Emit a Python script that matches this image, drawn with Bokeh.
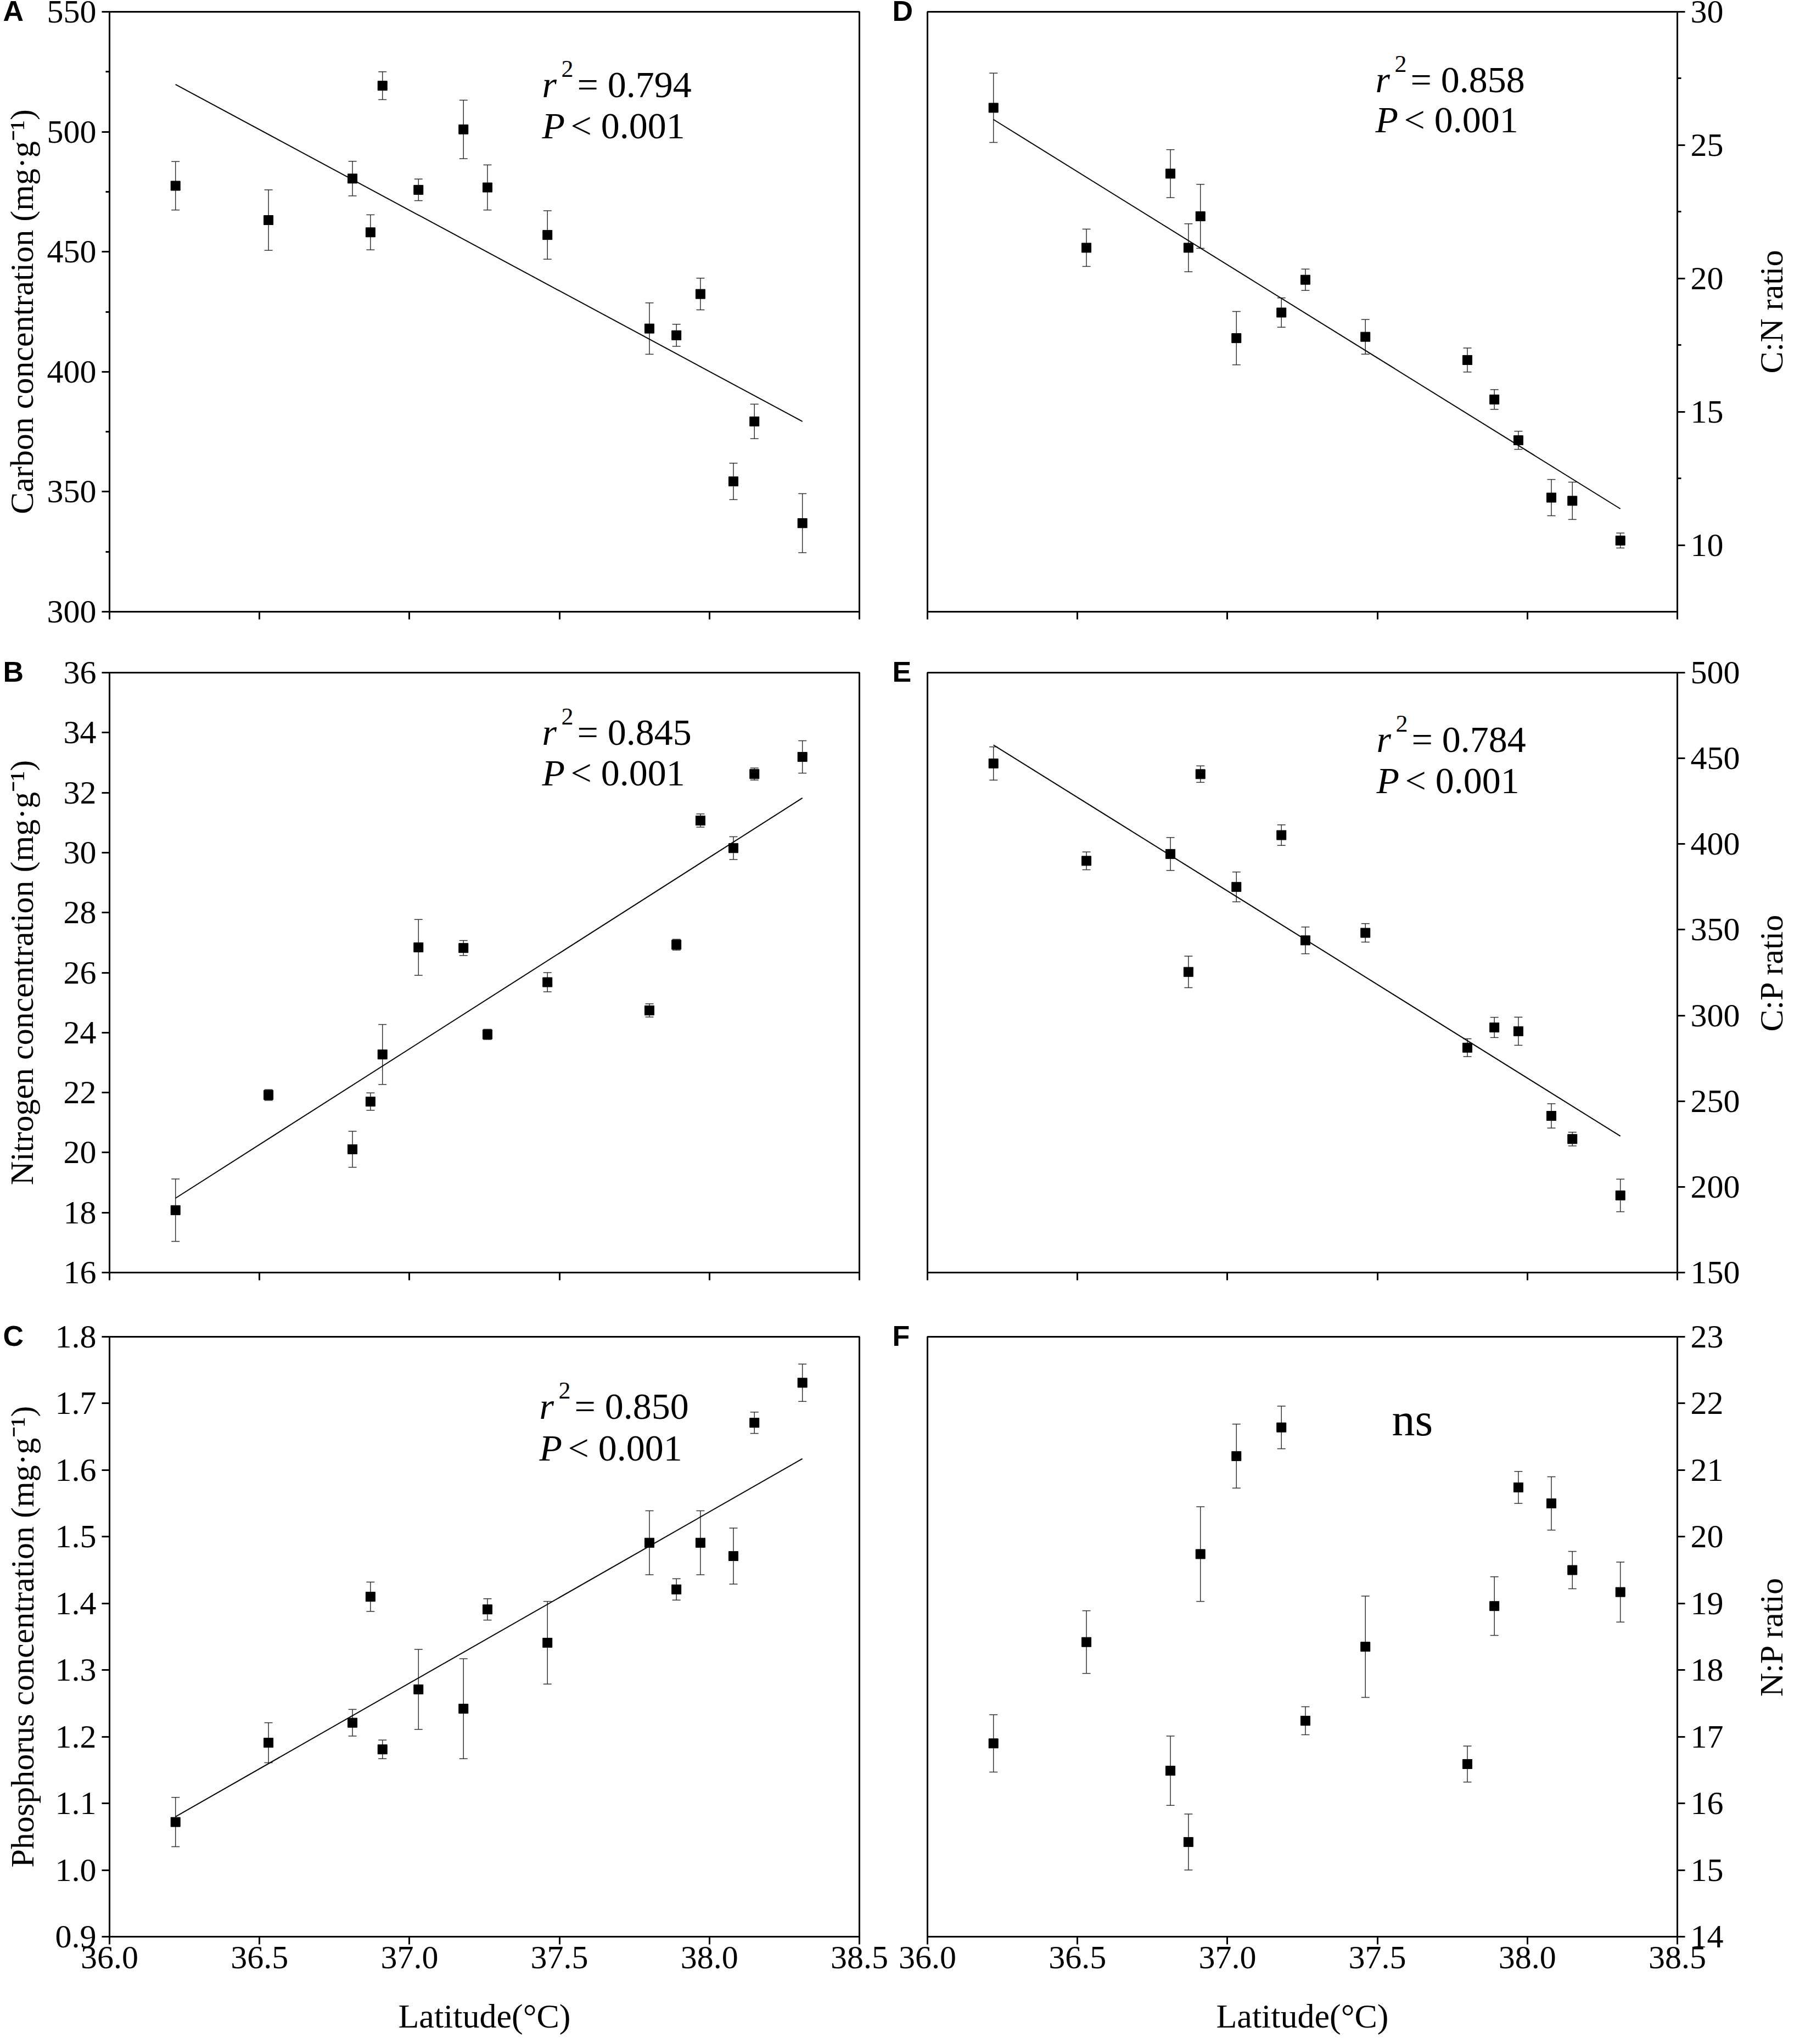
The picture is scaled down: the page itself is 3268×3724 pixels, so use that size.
import math
from bokeh.plotting import figure
from bokeh.models import (ColumnDataSource, Whisker, TeeHead, FixedTicker, Label,
                          Range1d, PrintfTickFormatter, CustomLabelingPolicy)
from bokeh.layouts import column, row
from bokeh.embed import file_html
from bokeh.resources import INLINE

# ---------------- data ----------------
latitude = [36.22, 36.53, 36.81, 36.87, 36.91, 37.03, 37.18, 37.26, 37.46,
            37.80, 37.89, 37.97, 38.08, 38.15, 38.31]

carbon = [477.5, 463.2, 480.5, 458.1, 519.2, 475.8, 501.0, 476.8, 457.0,
          418.0, 415.2, 432.4, 354.3, 379.3, 336.9]
carbon_err = [10.1, 12.6, 7.2, 7.3, 5.8, 4.5, 12.2, 9.4, 10.1,
              10.7, 4.6, 6.6, 7.6, 7.2, 12.3]
carbon_fit = [519.7, 379.3]

nitrogen = [18.08, 21.92, 20.11, 21.70, 23.27, 26.84, 26.82, 23.94, 25.68,
            24.74, 26.93, 31.07, 30.15, 32.62, 33.19]
nitrogen_err = [1.04, 0.18, 0.60, 0.29, 1.00, 0.93, 0.25, 0.17, 0.32,
                0.22, 0.18, 0.22, 0.38, 0.20, 0.54]
nitrogen_fit = [18.48, 31.82]

phosphorus = [1.072, 1.191, 1.221, 1.410, 1.181, 1.271, 1.242, 1.391, 1.341,
              1.491, 1.421, 1.491, 1.471, 1.671, 1.731]
phosphorus_err = [0.037, 0.030, 0.020, 0.022, 0.014, 0.060, 0.075, 0.016, 0.062,
                  0.048, 0.016, 0.048, 0.042, 0.016, 0.028]
phosphorus_fit = [1.080, 1.617]

cn_ratio = [26.40, 21.15, 23.93, 21.15, 22.33, 17.76, 18.72, 19.95, 17.81,
            16.94, 15.46, 13.93, 11.78, 11.66, 10.17]
cn_err = [1.30, 0.70, 0.90, 0.90, 1.20, 1.00, 0.55, 0.40, 0.65,
          0.45, 0.37, 0.34, 0.68, 0.70, 0.28]
cn_fit = [25.96, 11.36]

cp_ratio = [447.0, 390.2, 394.2, 325.4, 440.8, 375.0, 405.2, 343.8, 348.2,
            281.2, 293.0, 290.8, 241.4, 227.9, 195.0]
cp_err = [9.7, 5.2, 9.6, 9.2, 4.8, 8.7, 6.0, 7.8, 5.4,
          5.2, 5.9, 8.2, 7.1, 4.0, 9.5]
cp_fit = [457.8, 229.6]

np_ratio = [16.90, 18.42, 16.49, 15.42, 19.74, 21.21, 21.64, 17.24, 18.35,
            16.59, 18.96, 20.74, 20.50, 19.50, 19.17]
np_err = [0.43, 0.47, 0.52, 0.42, 0.71, 0.48, 0.32, 0.21, 0.76,
          0.27, 0.44, 0.24, 0.40, 0.28, 0.45]

x_ticks = [36.0, 36.5, 37.0, 37.5, 38.0, 38.5]
x_title = "Latitude(°C)"

stats_A = ("0.794", "0.001")
stats_B = ("0.845", "0.001")
stats_C = ("0.850", "0.001")
stats_D = ("0.858", "0.001")
stats_E = ("0.784", "0.001")

FONT = "Liberation Serif"
SANS = "Liberation Sans"
TICK_PX = "60px"
LABEL_PX = "60px"
XTITLE_PX = "62px"
STAT_PX = "68px"

FRAME_W = 1366
FRAME_H = 1093
X0, X1 = 36.0, 38.5


def style_axis(ax):
    ax.axis_line_width = 3
    ax.axis_line_color = "black"
    ax.major_tick_line_width = 3
    ax.minor_tick_line_width = 3
    ax.major_tick_line_color = "black"
    ax.minor_tick_line_color = "black"
    ax.major_tick_in = 0
    ax.major_tick_out = 14
    ax.minor_tick_in = 0
    ax.minor_tick_out = 7
    ax.major_label_text_font = FONT
    ax.major_label_text_font_size = TICK_PX
    ax.major_label_text_color = "black"
    ax.axis_label_text_font = FONT
    ax.axis_label_text_font_size = LABEL_PX
    ax.axis_label_text_font_style = "normal"
    ax.axis_label_text_color = "black"


def make_panel(right_col, b_top, b_bottom, y_rng, y_major, y_minor, y_fmt,
               y_label, y_label_standoff, show_x, letter, yvals, yerr, fit):
    if right_col:
        bl, br = 65, 197
        letter_dx = -64
    else:
        bl, br = 199, 59
        letter_dx = -194
    p = figure(width=bl + FRAME_W + br, height=b_top + FRAME_H + b_bottom,
               x_range=Range1d(X0, X1), y_range=Range1d(*y_rng),
               output_backend="svg", toolbar_location=None,
               y_axis_location="right" if right_col else "left",
               min_border_left=bl, min_border_right=br,
               min_border_top=b_top, min_border_bottom=b_bottom)
    p.grid.visible = False
    p.outline_line_color = "black"
    p.outline_line_width = 3
    p.outline_line_alpha = 1.0
    p.background_fill_color = "white"
    p.border_fill_color = "white"

    xa = p.xaxis[0]
    ya = p.yaxis[0]
    style_axis(xa)
    style_axis(ya)

    xa.ticker = FixedTicker(ticks=x_ticks, minor_ticks=[])
    xa.formatter = PrintfTickFormatter(format="%.1f")
    xa.major_label_standoff = 4
    if not show_x:
        xa.major_label_text_font_size = "0px"
        xa.major_label_policy = CustomLabelingPolicy(
            code="for (const i of indices) { indices.unset(i) }\nreturn indices")
    else:
        # x-axis title, drawn in the bottom border panel
        p.add_layout(Label(x=(X0 + X1) / 2, y=y_rng[0], x_offset=0, y_offset=-144,
                           text=x_title, text_font=FONT, text_font_size=XTITLE_PX,
                           text_align="center", text_baseline="middle",
                           text_color="black"), "below")

    ya.ticker = FixedTicker(ticks=y_major, minor_ticks=y_minor)
    ya.formatter = PrintfTickFormatter(format=y_fmt)
    ya.major_label_standoff = 10
    if right_col:
        # right-hand axis title reading bottom-to-top, drawn in the right border
        p.add_layout(Label(x=X1, y=(y_rng[0] + y_rng[1]) / 2, x_offset=171, y_offset=0,
                           angle=math.pi / 2, text=y_label, text_font=FONT,
                           text_font_size=LABEL_PX, text_align="center",
                           text_baseline="middle", text_color="black"), "right")
    else:
        ya.axis_label = y_label
        ya.axis_label_standoff = y_label_standoff

    src = ColumnDataSource(dict(
        x=latitude, y=yvals,
        upper=[v + e for v, e in zip(yvals, yerr)],
        lower=[v - e for v, e in zip(yvals, yerr)]))
    wh = Whisker(source=src, base="x", upper="upper", lower="lower",
                 line_color="#333333", line_width=1.5,
                 upper_head=TeeHead(size=15, line_width=1.5, line_color="#333333"),
                 lower_head=TeeHead(size=15, line_width=1.5, line_color="#333333"))
    p.add_layout(wh)
    if fit is not None:
        p.line(x=[latitude[0], latitude[-1]], y=fit, line_color="black", line_width=2)
    p.scatter("x", "y", source=src, marker="square", size=17,
              fill_color="black", line_color="black")

    # panel letter, placed in a border panel so it is not clipped to the frame
    p.add_layout(Label(x=X0, y=y_rng[1], x_offset=letter_dx, y_offset=2,
                       text=letter, text_font=SANS, text_font_style="bold",
                       text_font_size="52px", text_align="left",
                       text_baseline="middle", text_color="black"),
                 "left" if right_col else "right")
    return p


def add_text(p, y_top, dx, dy, text, size, style="normal"):
    p.add_layout(Label(x=X0, y=y_top, x_offset=dx, y_offset=-dy, text=text,
                       text_font=FONT, text_font_size=size, text_font_style=style,
                       text_align="left", text_baseline="alphabetic",
                       text_color="black"))


def add_stats(p, y_top, dx, dy_r, dy_p, stats):
    r2, pv = stats
    add_text(p, y_top, dx, dy_r, "r", STAT_PX, "italic")
    add_text(p, y_top, dx + 35, dy_r - 28, "2", "44px")
    add_text(p, y_top, dx + 64, dy_r, "= " + r2, STAT_PX)
    add_text(p, y_top, dx, dy_p, "P", STAT_PX, "italic")
    add_text(p, y_top, dx + 52, dy_p, "< " + pv, STAT_PX)


# ---------------- panels ----------------
pA = make_panel(False, 21, 60, (300, 550), [300, 350, 400, 450, 500, 550],
                [325, 375, 425, 475, 525], "%d",
                "Carbon concentration (mg·g⁻¹)", 10, False, "A",
                carbon, carbon_err, carbon_fit)
add_stats(pA, 550, 788, 132, 207, stats_A)

pD = make_panel(True, 21, 60, (7.5, 30), [10, 15, 20, 25, 30],
                [12.5, 17.5, 22.5, 27.5], "%d",
                "C:N ratio", 0, False, "D",
                cn_ratio, cn_err, cn_fit)
add_stats(pD, 30, 816, 123, 196, stats_D)

pB = make_panel(False, 51, 60, (16, 36), list(range(16, 37, 2)), [], "%d",
                "Nitrogen concentration (mg·g⁻¹)", 40, False, "B",
                nitrogen, nitrogen_err, nitrogen_fit)
add_stats(pB, 36, 788, 108, 182, stats_B)

pE = make_panel(True, 51, 60, (150, 500), [150, 200, 250, 300, 350, 400, 450, 500],
                [], "%d", "C:P ratio", 0, False, "E",
                cp_ratio, cp_err, cp_fit)
add_stats(pE, 500, 818, 121, 196, stats_E)

pC = make_panel(False, 57, 180, (0.9, 1.8),
                [0.9, 1.0, 1.1, 1.2, 1.3, 1.4, 1.5, 1.6, 1.7, 1.8], [], "%.1f",
                "Phosphorus concentration (mg·g⁻¹)", 24, True, "C",
                phosphorus, phosphorus_err, phosphorus_fit)
add_stats(pC, 1.8, 783, 126, 202, stats_C)

pF = make_panel(True, 57, 180, (14, 23), list(range(14, 24)), [], "%d",
                "N:P ratio", 0, True, "F",
                np_ratio, np_err, None)
add_text(pF, 23, 846, 151, "ns", "84px")

layout = column(row(pA, pD), row(pB, pE), row(pC, pF))

with open("out.html", "w") as f:
    f.write(file_html(layout, INLINE))
